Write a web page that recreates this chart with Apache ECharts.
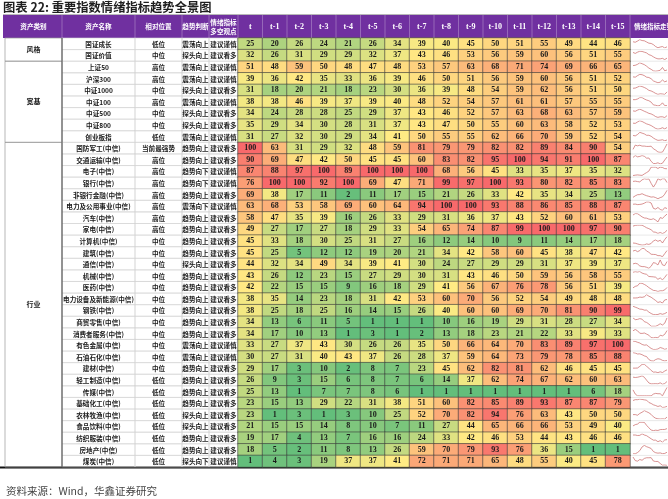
<!DOCTYPE html>
<html><head><meta charset="utf-8">
<script src="https://cdn.jsdelivr.net/npm/echarts@6/dist/echarts.min.js"></script>
<style>html,body{margin:0;padding:0;background:#fff}#c{width:668px;height:499px}</style>
</head><body><div id="c"></div>
<script>
// ---------- DATA ----------
const periods = ['t','t-1','t-2','t-3','t-4','t-5','t-6','t-7','t-8','t-9','t-10','t-11','t-12','t-13','t-14','t-15'];
const groups = [['风格', 2], ['宽基', 7], ['行业', 28]];
const names = ['国证成长','国证价值','上证50','沪深300','中证1000','中证100','中证500','中证800','创业板指',
  '国防军工(中信)','交通运输(中信)','电子(中信)','银行(中信)','非银行金融(中信)','电力及公用事业(中信)','汽车(中信)','家电(中信)',
  '计算机(中信)','建筑(中信)','通信(中信)','机械(中信)','医药(中信)','电力设备及新能源(中信)','钢铁(中信)','商贸零售(中信)',
  '消费者服务(中信)','有色金属(中信)','石油石化(中信)','建材(中信)','轻工制造(中信)','传媒(中信)','基础化工(中信)','农林牧渔(中信)',
  '食品饮料(中信)','纺织服装(中信)','房地产(中信)','煤炭(中信)'];
const positions = ['低位','中位','高位','高位','中位','高位','中位','中位','低位',
  '当前最强势','高位','高位','高位','高位','高位','高位','高位',
  '中位','中位','中位','中位','中位','中位','中位','中位',
  '中位','中位','中位','中位','低位','低位','低位','低位',
  '低位','低位','低位','低位'];
const trends = ['震荡向上','探头向上','震荡向上','震荡向上','探头向上','震荡向上','探头向上','探头向上','震荡向上',
  '趋势向上','趋势向上','趋势向下','趋势向下','趋势向上','震荡向下','趋势向上','趋势向上',
  '趋势向上','趋势向上','探头向上','趋势向上','趋势向上','趋势向上','趋势向上','趋势向上',
  '趋势向上','震荡向上','震荡向上','趋势向上','趋势向上','趋势向上','趋势向上','探头向上',
  '探头向上','趋势向上','趋势向上','探头向下'];
const views = ['建议谨慎','建议看多','建议谨慎','建议谨慎','建议看多','建议谨慎','建议看多','建议看多','建议谨慎',
  '建议看多','建议看多','建议谨慎','建议谨慎','建议看多','建议谨慎','建议看多','建议看多',
  '建议看多','建议看多','建议看多','建议看多','建议看多','建议看多','建议看多','建议看多',
  '建议看多','建议谨慎','建议谨慎','建议看多','建议看多','建议看多','建议看多','建议看多',
  '建议看多','建议看多','建议看多','建议谨慎'];
const values = [
  [25,20,26,24,21,26,34,39,40,45,50,51,55,49,44,46],
  [32,26,31,29,29,32,37,43,46,53,56,59,60,56,51,55],
  [51,48,59,50,48,47,48,53,57,63,68,71,74,69,66,65],
  [39,36,42,35,33,36,39,46,50,51,56,59,60,56,51,52],
  [31,18,20,21,18,23,30,36,39,48,54,59,62,56,51,50],
  [38,38,46,39,37,39,40,48,52,54,57,61,61,57,55,55],
  [34,24,28,28,25,29,37,43,46,52,57,63,68,63,57,59],
  [35,29,34,30,28,31,37,43,47,50,55,60,63,58,52,53],
  [31,27,32,30,29,34,41,50,55,55,62,66,70,59,52,54],
  [100,63,31,29,32,48,59,81,79,79,82,82,89,84,90,54],
  [90,69,47,42,50,45,45,60,83,82,95,100,94,91,100,87],
  [87,88,97,100,89,100,100,100,68,56,45,33,35,37,35,32],
  [76,100,100,92,100,69,47,71,99,97,100,93,80,82,85,83],
  [69,38,17,11,2,11,17,15,21,26,33,42,35,34,25,13],
  [63,68,53,58,69,60,64,94,100,100,93,88,86,85,88,87],
  [58,47,35,39,16,26,33,29,31,36,37,43,52,60,61,53],
  [49,27,17,27,18,29,33,54,65,74,87,99,100,100,97,90],
  [45,33,18,30,25,31,27,16,12,14,10,9,11,14,17,18],
  [45,25,5,12,12,19,20,21,34,42,58,60,45,38,47,42],
  [44,32,34,49,34,39,41,30,24,27,29,29,31,37,39,37],
  [43,26,12,23,15,27,29,30,31,43,46,50,59,56,58,55],
  [42,22,15,15,9,16,18,29,41,56,67,76,78,56,51,39],
  [38,35,14,23,18,31,42,53,60,70,56,52,54,49,48,48],
  [38,25,18,25,16,14,15,26,40,60,60,69,70,81,90,99],
  [34,13,6,11,5,1,1,1,10,16,19,29,31,28,27,34],
  [34,17,10,13,1,3,1,2,13,18,23,21,22,33,39,33],
  [33,27,37,43,30,26,26,35,50,66,64,70,83,89,97,100],
  [30,27,31,40,43,37,26,28,37,59,64,73,79,78,85,88],
  [29,17,3,10,2,8,7,23,45,62,82,81,62,46,45,45],
  [26,9,3,15,6,8,7,6,14,37,62,74,67,62,60,63],
  [25,13,1,7,7,8,6,1,1,1,1,1,1,1,6,18],
  [23,15,13,29,22,31,38,51,60,82,85,89,93,87,87,79],
  [23,1,3,1,3,10,25,52,70,82,94,76,63,43,50,50],
  [21,15,15,14,8,10,7,11,27,44,65,66,66,53,49,40],
  [19,17,4,13,7,16,16,24,33,42,46,53,44,43,46,46],
  [18,5,2,11,8,13,26,59,70,79,93,76,36,15,1,1],
  [1,4,3,19,37,37,41,72,71,71,65,48,55,40,45,78]
];
const headerCols = ['资产类别','资产名称','相对位置','趋势判断','情绪指标\n多空观点'];
const sparkHeader = '情绪指标走势';
const titleText = '图表 22: 重要指数情绪指标趋势全景图';
const sourceText = '资料来源：Wind，华鑫证券研究';

// ---------- LAYOUT / STYLE ----------
const TOP = 38, BOT = 467, H = BOT - TOP, NROW = names.length, rowH = H / NROW;
const HEAD_TOP = 15;
const colEdges = [5, 62, 135, 182, 209, 238];
const numLeft = 238, numRight = 630;
const sparkL = 633, sparkW = 34;
const PURPLE = '#7030A0';
const CJK = '"Noto Sans CJK SC"';
const SERIF = '"Liberation Serif"';

const GREEN = [99,190,123], YEL = [255,235,132], RED = [248,105,107];
const flat = values.flat().slice().sort((a,b)=>a-b);
const vMin = flat[0], vMax = flat[flat.length-1];
const pos50 = (flat.length - 1) * 0.5;
const vMid = flat[Math.floor(pos50)] + (flat[Math.ceil(pos50)] - flat[Math.floor(pos50)]) * (pos50 - Math.floor(pos50));
function mix(a, b, t) { return 'rgb(' + a.map((x,k)=>Math.round(x + (b[k]-x)*t)).join(',') + ')'; }
function cellColor(v) {
  if (v <= vMid) return mix(GREEN, YEL, (v - vMin) / (vMid - vMin));
  return mix(YEL, RED, (v - vMid) / (vMax - vMid));
}

const rowIdx = names.map((_, i) => i);

const grids = [
  { left: numLeft, top: TOP, width: numRight - numLeft, height: H },
  { left: 0, top: TOP, width: 668, height: H }
];
const xAxes = [
  { type: 'category', gridIndex: 0, data: periods, position: 'top',
    axisLine: { show: false }, axisTick: { show: false }, splitLine: { show: false },
    axisLabel: { color: '#fff', fontFamily: SERIF, fontWeight: 'bold', fontSize: 8, margin: 7.5, interval: 0 } },
  { type: 'value', gridIndex: 1, min: 0, max: 668, show: false }
];
const yAxes = [
  { type: 'category', gridIndex: 0, data: rowIdx, inverse: true, show: false },
  { type: 'category', gridIndex: 1, data: rowIdx, inverse: true, show: false }
];

const heatData = [];
values.forEach((row, i) => row.forEach((v, j) => {
  heatData.push({ value: [j, i, v], itemStyle: { color: cellColor(v) } });
}));

const series = [
  {
    type: 'custom', xAxisIndex: 1, yAxisIndex: 1, silent: true, clip: false, z: 1,
    data: rowIdx.map(i => [0, i]),
    encode: { x: 0, y: 1 },
    renderItem: function (params, api) {
      const i = params.dataIndex;
      const yc = api.coord([0, i])[1];
      const h = api.size([0, 1])[1];
      const y0 = yc - h / 2;
      const texts = [names[i], positions[i], trends[i], views[i]];
      const ch = [];
      for (let c = 1; c <= 4; c++) {
        const x0 = api.coord([colEdges[c], i])[0];
        const x1 = api.coord([colEdges[c + 1], i])[0];
        ch.push({ type: 'rect', shape: { x: x0, y: y0, width: x1 - x0, height: h },
          style: { fill: 'none', stroke: '#d4d4d4', lineWidth: 0.6 } });
        ch.push({ type: 'text', style: { text: texts[c - 1], x: (x0 + x1) / 2, y: yc + 0.5,
          align: 'center', verticalAlign: 'middle', font: 'bold 6.6px ' + CJK, fill: '#1a1a1a' } });
      }
      const sx0 = api.coord([numRight, i])[0];
      const sx1 = api.coord([668, i])[0];
      ch.push({ type: 'line', shape: { x1: sx0, y1: y0 + h, x2: sx1, y2: y0 + h },
        style: { stroke: '#d9d9d9', lineWidth: 0.6 } });
      return { type: 'group', children: ch };
    }
  },
  {
    type: 'custom', xAxisIndex: 1, yAxisIndex: 1, silent: true, clip: false, z: 1,
    data: (function () { let s = 0; return groups.map(g => { const r = [0, s, s + g[1] - 1]; s += g[1]; return r; }); })(),
    encode: { x: 0, y: 1 },
    renderItem: function (params, api) {
      const g = groups[params.dataIndex];
      const s = api.value(1), e = api.value(2);
      const h = api.size([0, 1])[1];
      const ya = api.coord([0, s])[1] - h / 2;
      const yb = api.coord([0, e])[1] + h / 2;
      const x0 = api.coord([colEdges[0], s])[0];
      const x1 = api.coord([colEdges[1], s])[0];
      return { type: 'group', children: [
        { type: 'rect', shape: { x: x0, y: ya, width: x1 - x0, height: yb - ya },
          style: { fill: 'none', stroke: '#9a9a9a', lineWidth: 0.7 } },
        { type: 'line', shape: { x1: x1, y1: ya, x2: x1, y2: yb }, style: { stroke: '#333', lineWidth: 0.8 } },
        { type: 'text', style: { text: g[0], x: (x0 + x1) / 2, y: (ya + yb) / 2, align: 'center',
          verticalAlign: 'middle', font: 'bold 7px ' + CJK, fill: '#1a1a1a' } }
      ] };
    }
  },
  {
    type: 'heatmap', xAxisIndex: 0, yAxisIndex: 0, data: heatData, z: 3,
    itemStyle: { borderColor: '#3a3a3a', borderWidth: 0.6 },
    label: { show: true, formatter: p => p.value[2], fontFamily: SERIF, fontWeight: 'bold', fontSize: 8, color: '#1a1a1a' },
    emphasis: { disabled: true }
  }
];

values.forEach((row, i) => {
  const gi = grids.length;
  grids.push({ left: sparkL, width: sparkW, top: TOP + i * rowH + 1.6, height: rowH - 3.2 });
  xAxes.push({ type: 'category', gridIndex: gi, data: periods.slice().reverse(), boundaryGap: false, show: false });
  yAxes.push({ type: 'value', gridIndex: gi, scale: true, min: 'dataMin', max: 'dataMax', show: false });
  series.push({ type: 'line', xAxisIndex: gi, yAxisIndex: gi, data: row.slice().reverse(), symbol: 'none',
    silent: true, lineStyle: { width: 0.7, color: '#c86464' } });
});

const graphic = [
  { type: 'text', left: 3, top: 1, style: { text: titleText, font: 'bold 12.3px ' + CJK, fill: '#1f1f1f' } },
  { type: 'line', shape: { x1: 3, y1: 14.5, x2: 668, y2: 14.5 }, style: { stroke: '#888', lineWidth: 0.6 } },
  { type: 'rect', z: -1, shape: { x: 3, y: HEAD_TOP, width: 665, height: TOP - HEAD_TOP }, style: { fill: PURPLE } },
  { type: 'line', shape: { x1: 0, y1: BOT + 0.5, x2: 668, y2: BOT + 0.5 }, style: { stroke: '#111', lineWidth: 1.8 } },
  { type: 'text', left: 6, top: 486, style: { text: sourceText, font: '10.5px ' + CJK, fill: '#444' } },
  { type: 'text', z: 5, style: { text: sparkHeader, x: sparkL + 1, y: (HEAD_TOP + TOP) / 2, align: 'left',
      verticalAlign: 'middle', font: 'bold 6.5px ' + CJK, fill: '#fff' } }
];
const allEdges = colEdges.slice(1).concat(periods.map((_, j) => numLeft + (j + 1) * (numRight - numLeft) / periods.length));
allEdges.forEach(x => graphic.push({ type: 'line', z: 5, shape: { x1: x, y1: HEAD_TOP, x2: x, y2: TOP },
  style: { stroke: 'rgba(255,255,255,0.45)', lineWidth: 0.6 } }));
headerCols.forEach((h, c) => {
  graphic.push({ type: 'text', z: 5, style: { text: h, x: (colEdges[c] + colEdges[c + 1]) / 2, y: (HEAD_TOP + TOP) / 2,
    align: 'center', verticalAlign: 'middle', font: 'bold 6.6px ' + CJK, fill: '#fff', lineHeight: 9 } });
});

const chart = echarts.init(document.getElementById('c'), null, { renderer: 'canvas' });
chart.setOption({
  animation: false,
  backgroundColor: '#fff',
  grid: grids, xAxis: xAxes, yAxis: yAxes, series: series, graphic: graphic
});
</script></body></html>
